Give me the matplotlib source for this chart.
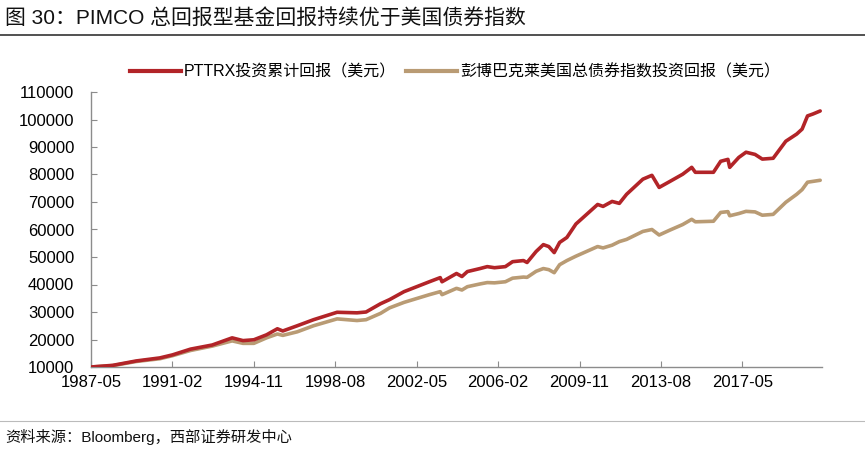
import matplotlib
matplotlib.use("Agg")
import matplotlib.pyplot as plt
import pandas as pd
import numpy as np
from matplotlib.lines import Line2D

plt.rcParams['font.family'] = ['Liberation Sans', 'Noto Sans CJK SC', 'DejaVu Sans']

dates = ["1987-05", "1988-05", "1989-06", "1990-07", "1991-02", "1991-12", "1992-12",
         "1993-11", "1994-05", "1994-11", "1995-06", "1995-12", "1996-03", "1996-11",
         "1997-08", "1998-09", "1999-08", "2000-01", "2000-09", "2001-02", "2001-10",
         "2002-12", "2003-06", "2003-07", "2004-03", "2004-06", "2004-09", "2005-04",
         "2005-08", "2005-12", "2006-06", "2006-10", "2007-04", "2007-06", "2007-11",
         "2008-03", "2008-06", "2008-09", "2008-12", "2009-04", "2009-09", "2010-09",
         "2010-12", "2011-05", "2011-09", "2012-01", "2012-10", "2013-03", "2013-07",
         "2014-01", "2014-08", "2015-01", "2015-03", "2016-01", "2016-05", "2016-09",
         "2016-10", "2017-03", "2017-07", "2017-12", "2018-04", "2018-10", "2019-05",
         "2019-11", "2020-02", "2020-05", "2020-08", "2020-12"]
pttrx = [10000, 10600, 12200, 13300, 14400, 16500, 18000,
         20600, 19600, 19900, 21700, 23900, 23100, 25000,
         27200, 29900, 29700, 30000, 33000, 34500, 37400,
         41000, 42500, 41000, 44000, 42900, 44700, 45800,
         46500, 46100, 46500, 48300, 48700, 48000, 52000,
         54500, 53800, 51600, 55300, 57100, 62000, 69100,
         68400, 70200, 69500, 72800, 78300, 79700, 75300,
         77500, 80100, 82600, 80800, 80800, 84800, 85500,
         82600, 86200, 88100, 87300, 85600, 85900, 92100,
         94700, 96500, 101300, 102000, 103100]
agg = [10000, 10500, 12000, 13000, 14100, 16000, 17600,
       19500, 18600, 18600, 20600, 22000, 21500, 22800,
       25000, 27500, 26900, 27200, 29500, 31500, 33500,
       36300, 37400, 36300, 38600, 38000, 39200, 40200,
       40700, 40600, 41000, 42300, 42700, 42600, 44800,
       45800, 45400, 44300, 47200, 48700, 50300, 53800,
       53300, 54300, 55600, 56400, 59300, 60000, 58000,
       59800, 61800, 63700, 62800, 63000, 66200, 66500,
       65000, 65800, 66600, 66400, 65200, 65500, 69900,
       72800, 74500, 77200, 77500, 77900]
tick_labels = ["1987-05", "1991-02", "1994-11", "1998-08", "2002-05", "2006-02",
               "2009-11", "2013-08", "2017-05"]
series_names = ["PTTRX投资累计回报（美元）", "彭博巴克莱美国总债券指数投资回报（美元）"]
title = "图 30：PIMCO 总回报型基金回报持续优于美国债券指数"
source = "资料来源：Bloomberg，西部证券研发中心"

start = pd.Period("1987-05", freq="M")
def mi(s):
    return (pd.Period(s, freq="M") - start).n

x = np.array([mi(d) for d in dates])
tick_pos = [mi(t) for t in tick_labels]

W, H = 865, 450
fig = plt.figure(figsize=(W / 100, H / 100), dpi=100)
ax = fig.add_axes([91 / W, 1 - 367 / H, (822 - 91) / W, (367 - 92) / H])

red = "#B22428"
tan = "#B99B74"
ax.plot(x, agg, color=tan, lw=2.6, solid_capstyle="round", solid_joinstyle="round", zorder=2)
ax.plot(x, pttrx, color=red, lw=2.6, solid_capstyle="round", solid_joinstyle="round", zorder=3)

ax.set_xlim(0, x[-1] + 1)
ax.set_ylim(10000, 110000)
ax.set_yticks(np.arange(10000, 110001, 10000))
ax.set_yticklabels([str(v) for v in range(10000, 110001, 10000)])
ax.set_xticks(tick_pos)
ax.set_xticklabels(tick_labels)

for s in ["top", "right"]:
    ax.spines[s].set_visible(False)
for s in ["left", "bottom"]:
    ax.spines[s].set_color("#8C8C8C")
    ax.spines[s].set_linewidth(1.0)
ax.tick_params(axis="both", direction="in", length=4, color="#8C8C8C", labelsize=12,
               labelcolor="#000000")
ax.tick_params(axis="y", pad=12)
ax.tick_params(axis="x", pad=6)

handles = [Line2D([], [], color=red, lw=3), Line2D([], [], color=tan, lw=3)]
fig.legend(handles, series_names, loc="center", bbox_to_anchor=(455 / W, 1 - 72 / H),
           ncol=2, frameon=False, fontsize=11.5, handlelength=3.2, handletextpad=0.2,
           columnspacing=0.6)

fig.text(5 / W, 1 - 18 / H, title, fontsize=15, ha="left", va="center", color="#111111")
fig.add_artist(Line2D([0, 1], [1 - 35 / H, 1 - 35 / H], color="#333333", lw=1.2))
fig.add_artist(Line2D([0, 1], [1 - 421 / H, 1 - 421 / H], color="#BBBBBB", lw=0.8))
fig.text(5 / W, 1 - 437 / H, source, fontsize=11, ha="left", va="center", color="#111111")

fig.savefig("out.png", dpi=100)
